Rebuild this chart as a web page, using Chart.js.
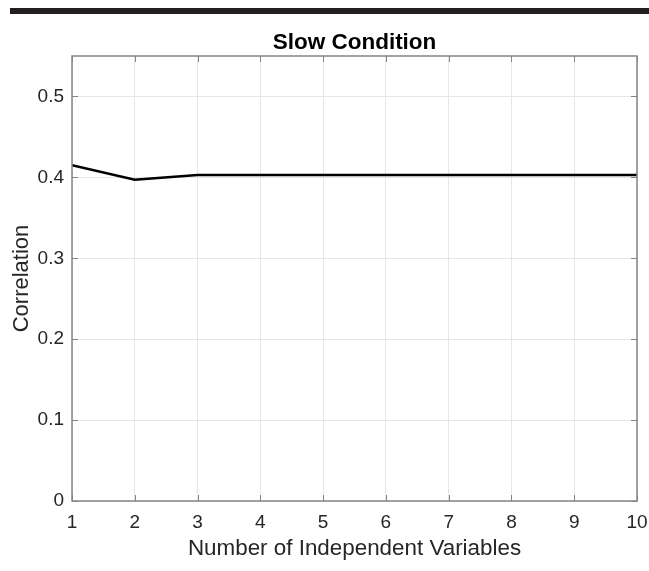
<!DOCTYPE html>
<html>
<head>
<meta charset="utf-8">
<script src="https://cdn.jsdelivr.net/npm/chart.js@4/dist/chart.umd.min.js"></script>
<style>
  html, body { margin: 0; padding: 0; background: #fff; }
  #wrap { width: 649px; height: 571px; position: relative; }
</style>
</head>
<body>
<div id="wrap"><canvas id="chart" width="649" height="571"></canvas></div>
<script>
// values
const numVars = [1, 2, 3, 4, 5, 6, 7, 8, 9, 10];
const correlation = [0.415, 0.397, 0.403, 0.403, 0.403, 0.403, 0.403, 0.403, 0.403, 0.403];
const yTickValues = [0, 0.1, 0.2, 0.3, 0.4, 0.5];
const xTickValues = [1, 2, 3, 4, 5, 6, 7, 8, 9, 10];

const FONT = '"Liberation Sans", Arial, Helvetica, sans-serif';
const TEXT = '#262626';
const AXIS = '#858585';

// black rule at the top of the figure, and MATLAB style box with inward ticks
const frame = {
    id: 'frame',
    beforeDraw(chart) {
        const ctx = chart.ctx;
        ctx.save();
        ctx.fillStyle = '#fff';
        ctx.fillRect(0, 0, chart.width, chart.height);
        ctx.fillStyle = '#231f20';
        ctx.fillRect(10, 8, chart.width - 10, 6);
        ctx.restore();
    },
    afterDraw(chart) {
        const { ctx, chartArea: a, scales } = chart;
        ctx.save();
        ctx.strokeStyle = AXIS;
        ctx.lineWidth = 1;
        ctx.beginPath();
        xTickValues.forEach(v => {
            const px = Math.round(scales.x.getPixelForValue(v)) + 0.5;
            ctx.moveTo(px, a.bottom); ctx.lineTo(px, a.bottom - 6);
            ctx.moveTo(px, a.top); ctx.lineTo(px, a.top + 6);
        });
        yTickValues.forEach(v => {
            const py = Math.round(scales.y.getPixelForValue(v)) + 0.5;
            ctx.moveTo(a.left, py); ctx.lineTo(a.left + 6, py);
            ctx.moveTo(a.right, py); ctx.lineTo(a.right - 6, py);
        });
        ctx.stroke();
        ctx.lineWidth = 1.5;
        ctx.strokeRect(a.left, a.top, a.right - a.left, a.bottom - a.top);
        ctx.restore();
    }
};

new Chart(document.getElementById('chart'), {
    type: 'line',
    data: {
        datasets: [{
            data: numVars.map((x, i) => ({ x: x, y: correlation[i] })),
            borderColor: '#000',
            borderWidth: 2.6,
            pointRadius: 0,
            tension: 0,
            fill: false
        }]
    },
    options: {
        responsive: false,
        animation: false,
        layout: { padding: { top: 16, right: 12, bottom: 0, left: 0 } },
        plugins: {
            legend: { display: false },
            tooltip: { enabled: false },
            title: {
                display: true,
                fullSize: false,
                text: 'Slow Condition',
                color: '#000',
                font: { family: FONT, size: 22.5, weight: 'bold' },
                padding: { top: 13, bottom: 0 }
            }
        },
        scales: {
            x: {
                type: 'linear',
                min: 1,
                max: 10,
                afterFit: s => { s.height = 70; s.paddingLeft = 0; s.paddingRight = 0; },
                afterBuildTicks: s => { s.ticks = xTickValues.map(v => ({ value: v })); },
                grid: { color: '#e6e6e6', drawTicks: false },
                border: { display: false },
                ticks: { color: TEXT, font: { family: FONT, size: 19 }, padding: 10, maxRotation: 0 },
                title: {
                    display: true,
                    text: 'Number of Independent Variables',
                    color: TEXT,
                    font: { family: FONT, size: 22.4 },
                    padding: { top: 0, bottom: 9 }
                }
            },
            y: {
                min: 0,
                max: 0.55,
                afterFit: s => { s.width = 72; },
                afterBuildTicks: s => { s.ticks = yTickValues.map(v => ({ value: v })); },
                grid: { color: '#e6e6e6', drawTicks: false },
                border: { display: false },
                ticks: {
                    color: TEXT,
                    font: { family: FONT, size: 19 },
                    padding: 8,
                    callback: v => v === 0 ? '0' : v.toFixed(1)
                },
                title: {
                    display: true,
                    text: 'Correlation',
                    color: TEXT,
                    font: { family: FONT, size: 22 },
                    padding: { top: 9, bottom: 0 }
                }
            }
        }
    },
    plugins: [frame]
});
</script>
</body>
</html>
